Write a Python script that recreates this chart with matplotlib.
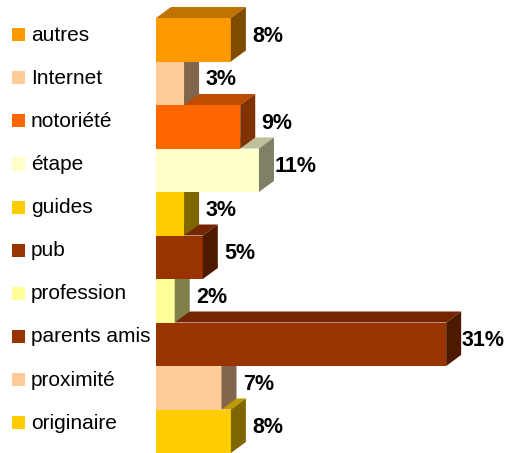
import numpy as np
import matplotlib.pyplot as plt
from matplotlib.patches import Polygon, Rectangle
from matplotlib.colors import to_rgb

categories = ['autres', 'Internet', 'notoriété', 'étape', 'guides', 'pub',
              'profession', 'parents amis', 'proximité', 'originaire']
values = [8, 3, 9, 11, 3, 5, 2, 31, 7, 8]
colors = ['#FF9900', '#FFCC99', '#FF6600', '#FFFFCC', '#FFCC00', '#993300',
          '#FFFF99', '#993300', '#FFCC99', '#FFCC00']

plt.rcParams['font.family'] = ['Liberation Sans', 'DejaVu Sans']

W, H = 509, 453
fig = plt.figure(figsize=(W / 100, H / 100), dpi=100)
ax = fig.add_axes([0, 0, 1, 1])

# pixel layout of the plot area
x0 = 156          # left edge of the bars
px_pct = 9.36     # pixels per percent
top = 18          # top of the first bar
slot = 43.5       # bar height (bars touch)
ax.set_xlim(-x0 / px_pct, (W - x0) / px_pct)
ax.set_ylim((H - top) / slot - 0.5, -top / slot - 0.5)
ax.axis('off')

# 3d depth of the bars
dx = 15 / px_pct
dy = 11 / slot


def shade(c, f):
    return tuple(np.array(to_rgb(c)) * f)


n = len(values)
# draw bottom bar first so each bar above hides the top face below it
for i in reversed(range(n)):
    v, c = values[i], colors[i]
    z = 3 * (n - i)
    yt, yb = i - 0.5, i + 0.5
    ax.barh(i, v, height=1, left=0, color=c, linewidth=0, zorder=z)
    ax.add_patch(Polygon([(0, yt), (v, yt), (v + dx, yt - dy), (dx, yt - dy)],
                         closed=True, facecolor=shade(c, 0.75), edgecolor='none', zorder=z))
    ax.add_patch(Polygon([(v, yt), (v, yb), (v + dx, yb - dy), (v + dx, yt - dy)],
                         closed=True, facecolor=shade(c, 0.5), edgecolor='none', zorder=z + 1))
    ax.text(v + dx + 22 / px_pct, i - 0.08, f'{v}%', ha='center', va='center',
            fontsize=15.5, fontweight='bold', color='black', zorder=50)

# legend column on the left
leg_top, leg_step = 34.7, 43.1
for i, (lab, c) in enumerate(zip(categories, colors)):
    py = leg_top + leg_step * i
    ax.add_patch(Rectangle((12 / W, 1 - (py + 6.5) / H), 13 / W, 13 / H,
                           transform=ax.transAxes, facecolor=c, edgecolor='none'))
    ax.text(31 / W, 1 - (py + 0.5) / H, lab, transform=ax.transAxes, ha='left',
            va='center', fontsize=15, color='black')

fig.savefig('out.png', dpi=100)
